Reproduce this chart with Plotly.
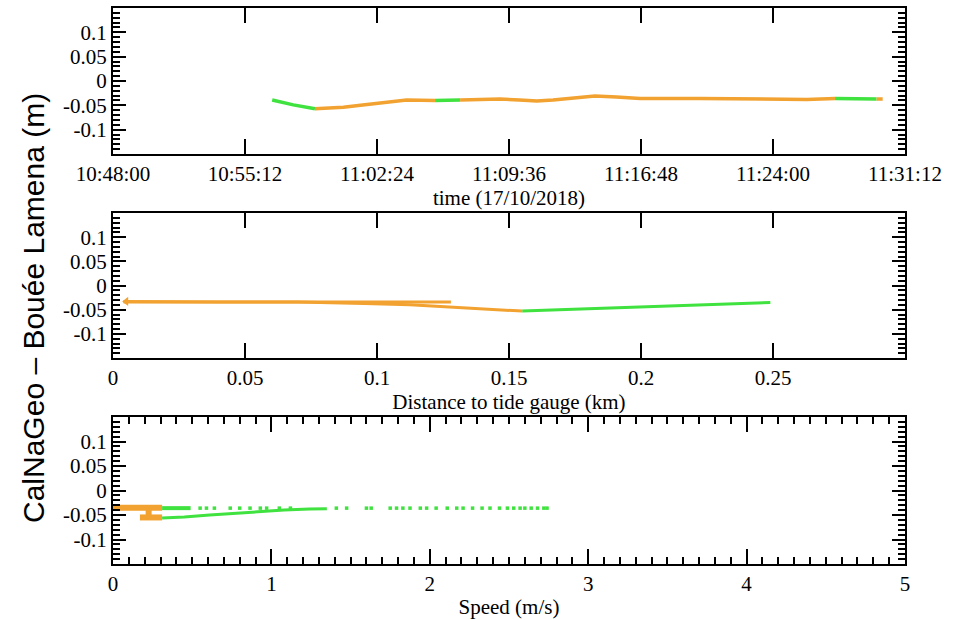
import plotly.graph_objects as go

DAY = "2018-10-17 "

# ---- Panel 1: time series (segments by colour) ----
t_green_a = ["10:56:41", "10:57:50", "10:59:01"]
v_green_a = [-0.039, -0.049, -0.057]
t_orange_a = ["10:59:01", "11:00:34", "11:01:30", "11:02:23", "11:03:15", "11:04:01", "11:05:34"]
v_orange_a = [-0.057, -0.054, -0.050, -0.046, -0.042, -0.039, -0.040]
t_green_b = ["11:05:34", "11:06:56"]
v_green_b = [-0.040, -0.039]
t_orange_b = ["11:06:56", "11:08:45", "11:09:07", "11:10:10", "11:11:07", "11:12:00", "11:12:45",
              "11:13:30", "11:14:17", "11:15:28", "11:16:45", "11:20:01", "11:23:39",
              "11:25:50", "11:27:23"]
v_orange_b = [-0.039, -0.037, -0.037, -0.039, -0.041, -0.039, -0.036,
              -0.033, -0.031, -0.033, -0.036, -0.036, -0.037,
              -0.038, -0.036]
t_green_c = ["11:27:23", "11:29:39"]
v_green_c = [-0.036, -0.037]
t_orange_c = ["11:29:39", "11:29:59"]
v_orange_c = [-0.037, -0.037]

# ---- Panel 2: vs distance to tide gauge (km) ----
d_green = [0.155, 0.175, 0.200, 0.225, 0.249]
dv_green = [-0.053, -0.049, -0.045, -0.040, -0.035]
d_orange_in = [0.155, 0.131, 0.1125, 0.095, 0.07, 0.04, 0.02, 0.004]
dv_orange_in = [-0.053, -0.045, -0.040, -0.037, -0.034, -0.034, -0.034, -0.033]
d_orange_out = [0.004, 0.03, 0.06, 0.09, 0.11, 0.128]
dv_orange_out = [-0.034, -0.034, -0.034, -0.034, -0.034, -0.034]
d_dot = [0.005]
dv_dot = [-0.033]

# ---- Panel 3: vs speed (m/s) ----
s_orange = [0.0, 0.31, None, 0.225, 0.225, None, 0.17, 0.31]
sv_orange = [-0.035, -0.035, None, -0.037, -0.053, None, -0.055, -0.055]
s_green_band = [0.31, 0.49]
sv_green_band = [-0.036, -0.036]
s_green_low = [0.31, 0.45, 0.61, 0.78, 0.93, 1.08, 1.24, 1.35]
sv_green_low = [-0.056, -0.054, -0.050, -0.046, -0.042, -0.040, -0.038, -0.037]
s_green_dots = [0.55, 0.59, 0.64, 0.74, 0.80, 0.865, 0.93, 0.97, 1.05, 1.12, 1.41, 1.475,
                1.60, 1.63, 1.75, 1.79, 1.83, 1.875, 1.94, 1.98, 2.04, 2.11, 2.17, 2.21,
                2.27, 2.33, 2.38, 2.44, 2.49, 2.53, 2.57, 2.60, 2.64, 2.68, 2.72, 2.74]
sv_green_dots = [-0.036] * len(s_green_dots)

y_tickvals = [-0.1, -0.05, 0, 0.05, 0.1]
y_ticktext = ["-0.1", "-0.05", "0", "0.05", "0.1"]
d_tickvals = [0, 0.05, 0.1, 0.15, 0.2, 0.25]
d_ticktext = ["0", "0.05", "0.1", "0.15", "0.2", "0.25"]

ORANGE = "#F2A230"
GREEN = "#3FE23F"

fig = go.Figure()

def line(x, y, color, w, xa, ya):
    fig.add_trace(go.Scatter(x=x, y=y, mode="lines", line=dict(color=color, width=w),
                             xaxis=xa, yaxis=ya, showlegend=False, hoverinfo="skip"))

ts = lambda arr: [DAY + t for t in arr]
line(ts(t_green_a), v_green_a, GREEN, 3.5, "x", "y")
line(ts(t_orange_a), v_orange_a, ORANGE, 3.5, "x", "y")
line(ts(t_green_b), v_green_b, GREEN, 3.5, "x", "y")
line(ts(t_orange_b), v_orange_b, ORANGE, 3.5, "x", "y")
line(ts(t_green_c), v_green_c, GREEN, 3.5, "x", "y")
line(ts(t_orange_c), v_orange_c, ORANGE, 3.5, "x", "y")

line(d_green, dv_green, GREEN, 3, "x2", "y2")
line(d_orange_in, dv_orange_in, ORANGE, 3, "x2", "y2")
line(d_orange_out, dv_orange_out, ORANGE, 3, "x2", "y2")
fig.add_trace(go.Scatter(x=d_dot, y=dv_dot, mode="markers",
                         marker=dict(color=ORANGE, size=8, symbol="triangle-left"),
                         xaxis="x2", yaxis="y2", showlegend=False, hoverinfo="skip"))

line(s_orange, sv_orange, ORANGE, 6, "x3", "y3")
line(s_green_band, sv_green_band, GREEN, 4, "x3", "y3")
line(s_green_low, sv_green_low, GREEN, 3, "x3", "y3")
fig.add_trace(go.Scatter(x=s_green_dots, y=sv_green_dots, mode="markers",
                         marker=dict(color=GREEN, size=3.5, symbol="square"),
                         xaxis="x3", yaxis="y3", showlegend=False, hoverinfo="skip"))

TICKFONT = dict(family="Liberation Serif", size=21, color="black")
XDOM = [113 / 970, 905 / 970]

fig.update_layout(
    width=970, height=620, margin=dict(l=0, r=0, t=0, b=0),
    paper_bgcolor="white", plot_bgcolor="white",
    xaxis=dict(domain=XDOM, anchor="y", type="date",
               range=[DAY + "10:48:00", DAY + "11:31:12"],
               tick0=DAY + "10:48:00", dtick=432000, tickformat="%H:%M:%S",
               showline=True, linecolor="black", linewidth=2, mirror="allticks",
               ticks="inside", ticklen=15, tickwidth=2, tickcolor="black",
               showgrid=False, zeroline=False, tickfont=TICKFONT, automargin=False,
               title=dict(text="time (17/10/2018)", font=TICKFONT, standoff=4)),
    xaxis2=dict(domain=XDOM, anchor="y2", range=[0, 0.3],
                tickvals=d_tickvals, ticktext=d_ticktext,
                showline=True, linecolor="black", linewidth=2, mirror="allticks",
                ticks="inside", ticklen=15, tickwidth=2, tickcolor="black",
                showgrid=False, zeroline=False, tickfont=TICKFONT, automargin=False,
                title=dict(text="Distance to tide gauge (km)", font=TICKFONT, standoff=4)),
    xaxis3=dict(domain=XDOM, anchor="y3", range=[0, 5], dtick=1,
                showline=True, linecolor="black", linewidth=2, mirror="allticks",
                ticks="inside", ticklen=15, tickwidth=2, tickcolor="black",
                minor=dict(ticks="inside", ticklen=7, tickwidth=1.5, tickcolor="black", dtick=0.1),
                showgrid=False, zeroline=False, tickfont=TICKFONT, automargin=False,
                title=dict(text="Speed (m/s)", font=TICKFONT, standoff=4)),
    annotations=[dict(text="CalNaGeo – Bouée Lamena (m)", textangle=-90,
                      xref="paper", yref="paper", x=33 / 970, y=1 - 308 / 620,
                      xanchor="center", yanchor="middle", showarrow=False,
                      font=dict(family="Liberation Sans", size=30, color="black"))],
)
for name, dom, anc in [("yaxis", [1 - 154 / 620, 1 - 8 / 620], "x"),
                       ("yaxis2", [1 - 358 / 620, 1 - 213 / 620], "x2"),
                       ("yaxis3", [1 - 564 / 620, 1 - 417 / 620], "x3")]:
    fig.layout[name] = dict(domain=dom, anchor=anc, range=[-0.15, 0.15],
                            tickvals=y_tickvals, ticktext=y_ticktext,
                            showline=True, linecolor="black", linewidth=2, mirror="allticks",
                            ticks="inside", ticklen=13, tickwidth=2, tickcolor="black",
                            showgrid=False, zeroline=False, tickfont=TICKFONT, automargin=False,
                            minor=dict(ticks="inside", ticklen=7, tickwidth=1.5,
                                       tickcolor="black", tickmode="linear", dtick=0.01, tick0=0))

fig.write_html("out.html")
